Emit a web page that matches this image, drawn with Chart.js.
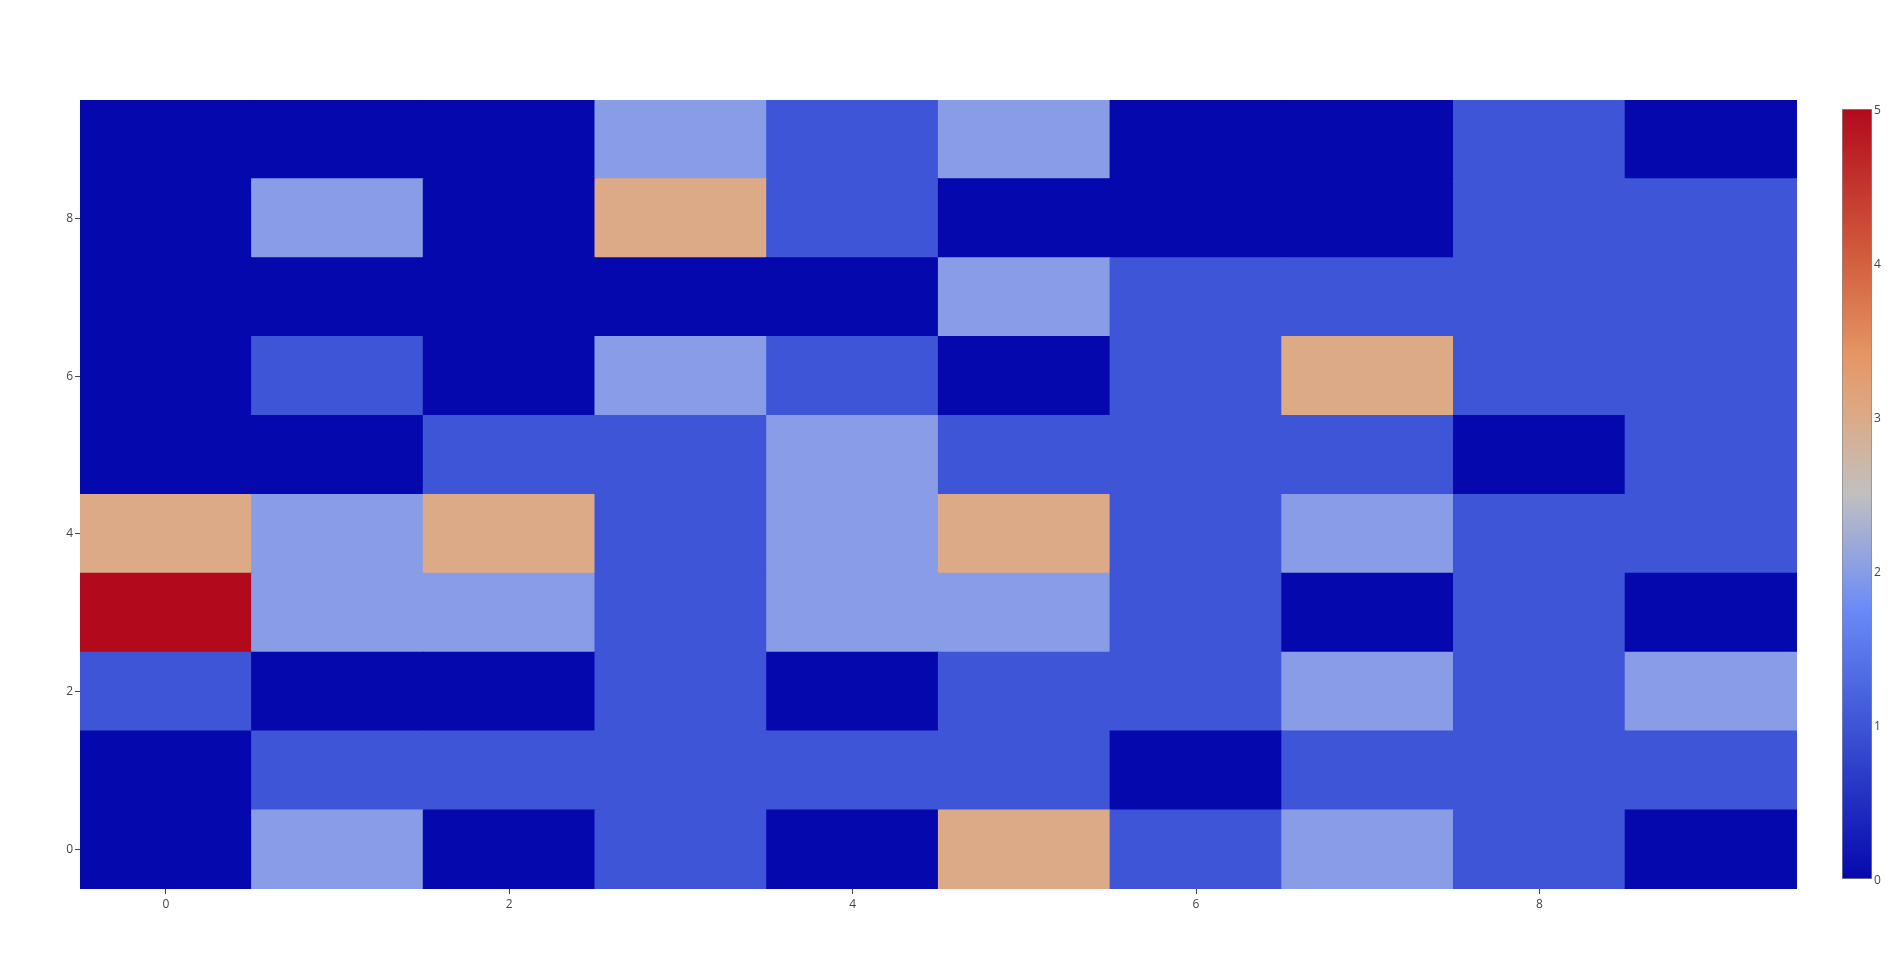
<!DOCTYPE html>
<html>
<head>
<meta charset="utf-8">
<script src="https://cdn.jsdelivr.net/npm/chart.js@4"></script>
<style>
  html, body { margin: 0; padding: 0; background: #fff; }
  #mainWrap { position: absolute; left: 0; top: 0; width: 1904px; height: 969px; }
  #barWrap { position: absolute; left: 1830px; top: 90px; width: 74px; height: 810px; }
</style>
</head>
<body>
<div id="mainWrap"><canvas id="heatChart"></canvas></div>
<div id="barWrap"><canvas id="scaleChart"></canvas></div>
<script>
// heatmap values, row index = y (0 at bottom), column index = x
const xValues = [0, 1, 2, 3, 4, 5, 6, 7, 8, 9];
const yValues = [0, 1, 2, 3, 4, 5, 6, 7, 8, 9];
const cellValues = [
  [0, 2, 0, 1, 0, 3, 1, 2, 1, 0], // y = 0
  [0, 1, 1, 1, 1, 1, 0, 1, 1, 1], // y = 1
  [1, 0, 0, 1, 0, 1, 1, 2, 1, 2], // y = 2
  [5, 2, 2, 1, 2, 2, 1, 0, 1, 0], // y = 3
  [3, 2, 3, 1, 2, 3, 1, 2, 1, 1], // y = 4
  [0, 0, 1, 1, 2, 1, 1, 1, 0, 1], // y = 5
  [0, 1, 0, 2, 1, 0, 1, 3, 1, 1], // y = 6
  [0, 0, 0, 0, 0, 2, 1, 1, 1, 1], // y = 7
  [0, 2, 0, 3, 1, 0, 0, 0, 1, 1], // y = 8
  [0, 0, 0, 2, 1, 2, 0, 0, 1, 0]  // y = 9
];
const xTicks = [0, 2, 4, 6, 8];
const yTicks = [0, 2, 4, 6, 8];
const scaleTicks = [0, 1, 2, 3, 4, 5];
const zMin = 0;
const zMax = 5;

// colour scale stops (fraction, rgb)
const colorStops = [
  [0.0, [5, 8, 172]],
  [0.2, [61, 85, 214]],
  [0.35, [106, 138, 247]],
  [0.4, [136, 157, 230]],
  [0.5, [192, 192, 192]],
  [0.6, [220, 170, 135]],
  [0.68, [229, 150, 101]],
  [0.8, [211, 96, 63]],
  [1.0, [178, 10, 28]]
];

function colorFor(value) {
  const t = (value - zMin) / (zMax - zMin);
  for (let i = 1; i < colorStops.length; i++) {
    const [t1, c1] = colorStops[i];
    const [t0, c0] = colorStops[i - 1];
    if (t <= t1) {
      const f = (t - t0) / (t1 - t0);
      const c = c0.map((v, k) => Math.round(v + (c1[k] - v) * f));
      return `rgb(${c[0]},${c[1]},${c[2]})`;
    }
  }
  const last = colorStops[colorStops.length - 1][1];
  return `rgb(${last[0]},${last[1]},${last[2]})`;
}

const tickFont = { family: "'Open Sans', Arial, sans-serif", size: 12 };
const tickColor = "#444";

const datasets = yValues.map((y, r) => ({
  label: "y" + y,
  data: xValues.map((x) => ({ x: x, y: [y - 0.5, y + 0.5] })),
  backgroundColor: cellValues[r].map(colorFor),
  borderWidth: 0,
  inflateAmount: 0.6,
  barPercentage: 1,
  categoryPercentage: 1,
  grouped: false
}));

new Chart(document.getElementById("heatChart"), {
  type: "bar",
  data: { datasets },
  options: {
    responsive: true,
    maintainAspectRatio: false,
    animation: false,
    layout: { padding: { left: 0, top: 100, right: 107, bottom: 50 } },
    plugins: { legend: { display: false }, tooltip: { enabled: false } },
    scales: {
      x: {
        type: "linear",
        min: -0.5,
        max: 9.5,
        offset: false,
        afterBuildTicks: (scale) => { scale.ticks = xTicks.map((v) => ({ value: v })); },
        afterFit: (scale) => { scale.height = 30; },
        grid: { drawOnChartArea: false, drawTicks: true, tickLength: 5, color: tickColor, offset: false },
        border: { display: false },
        ticks: { color: tickColor, font: tickFont, padding: 3, maxRotation: 0 }
      },
      y: {
        type: "linear",
        min: -0.5,
        max: 9.5,
        afterBuildTicks: (scale) => { scale.ticks = yTicks.map((v) => ({ value: v })); },
        afterFit: (scale) => { scale.width = 80; },
        grid: { drawOnChartArea: false, drawTicks: true, tickLength: 5, color: tickColor },
        border: { display: false },
        ticks: { color: tickColor, font: tickFont, padding: 2 }
      }
    }
  }
});

// colour bar
function scaleGradient(context) {
  const chart = context.chart;
  if (!chart.chartArea) return colorFor(zMin);
  const yScale = chart.scales.y;
  const g = chart.ctx.createLinearGradient(0, yScale.getPixelForValue(zMin), 0, yScale.getPixelForValue(zMax));
  colorStops.forEach(([t, c]) => g.addColorStop(t, `rgb(${c[0]},${c[1]},${c[2]})`));
  return g;
}

new Chart(document.getElementById("scaleChart"), {
  type: "bar",
  data: {
    labels: ["z"],
    datasets: [{
      data: [[zMin, zMax]],
      backgroundColor: scaleGradient,
      borderColor: "#888",
      borderWidth: 1,
      borderSkipped: false,
      barPercentage: 1,
      categoryPercentage: 1
    }]
  },
  options: {
    responsive: true,
    maintainAspectRatio: false,
    animation: false,
    layout: { padding: { left: 12, top: 19, right: 0, bottom: 21 } },
    plugins: { legend: { display: false }, tooltip: { enabled: false } },
    scales: {
      x: { display: false },
      y: {
        position: "right",
        min: zMin,
        max: zMax,
        afterBuildTicks: (scale) => { scale.ticks = scaleTicks.map((v) => ({ value: v })); },
        afterFit: (scale) => { scale.width = 32; },
        grid: { display: false, drawTicks: false },
        border: { display: false },
        ticks: { color: tickColor, font: tickFont, padding: 2, labelOffset: 2 }
      }
    }
  }
});
</script>
</body>
</html>
